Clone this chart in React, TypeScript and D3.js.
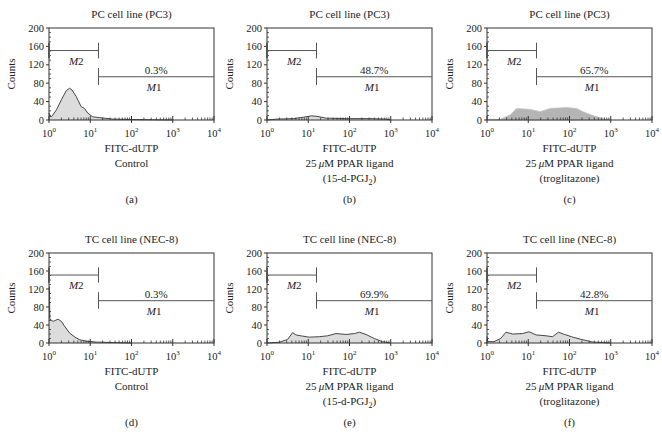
import React from "react";
import * as d3 from "d3";

// ---------- data (log10 FITC-dUTP channel, counts) ----------
const aLog = [0, 0.02, 0.06, 0.18, 0.3, 0.42, 0.5, 0.56, 0.66, 0.78, 0.86, 0.94, 1.06, 1.23, 1.55, 2.03, 2.5, 3.0];
const aCnt = [15, 8, 7, 22, 44, 64, 69, 65, 51, 29, 25, 15, 7, 5, 2, 1, 0.5, 0];

const bLog = [0, 0.24, 0.64, 0.88, 1.08, 1.2, 1.44, 1.92, 2.48, 2.88, 3.0];
const bCnt = [0, 2, 3, 6, 9, 8, 4, 3, 3, 2, 0];

const cLog = [0, 0.32, 0.56, 0.72, 1.05, 1.29, 1.53, 1.93, 2.17, 2.33, 2.58, 2.82, 2.98];
const cCnt = [1.5, 1.5, 11, 25, 23, 18, 25, 27, 25, 18, 9, 3, 0];

const dLog = [0, 0.01, 0.02, 0.1, 0.22, 0.3, 0.38, 0.5, 0.63, 0.75, 0.91, 1.15, 1.56, 2.0];
const dCnt = [125, 125, 53, 48, 53, 48, 37, 22, 13, 7, 4, 2, 1, 0];

const eLog = [0, 0.29, 0.5, 0.62, 0.7, 0.82, 1.02, 1.27, 1.47, 1.67, 1.92, 2.12, 2.24, 2.4, 2.6, 2.8, 2.98];
const eCnt = [0, 1.5, 8, 23, 18, 16, 13, 14, 16, 21, 19, 21, 24, 19, 10, 3, 0];

const fLog = [0, 0.02, 0.17, 0.33, 0.46, 0.62, 0.86, 1.02, 1.19, 1.43, 1.59, 1.73, 1.88, 2.08, 2.33, 2.57, 2.8, 3.0];
const fCnt = [15, 3, 3, 10, 24, 20, 21, 25, 18, 16, 14, 24, 19, 13, 7, 2, 1, 0];

const titles = ["PC cell line (PC3)", "PC cell line (PC3)", "PC cell line (PC3)", "TC cell line (NEC-8)", "TC cell line (NEC-8)", "TC cell line (NEC-8)"];
const percents = ["0.3%", "48.7%", "65.7%", "0.3%", "69.9%", "42.8%"];
const panelLetters = ["(a)", "(b)", "(c)", "(d)", "(e)", "(f)"];
const treatments = ["control", "pgj", "trog", "control", "pgj", "trog"];
const yTicks = [0, 40, 80, 120, 160, 200];
const decades = [0, 1, 2, 3, 4];
const m2Level = 151;
const m1Level = 94;
const gateLog = 1.2;

const series = [
  { log: aLog, cnt: aCnt },
  { log: bLog, cnt: bCnt },
  { log: cLog, cnt: cCnt },
  { log: dLog, cnt: dCnt },
  { log: eLog, cnt: eCnt },
  { log: fLog, cnt: fCnt },
];

const FONT = "'Liberation Serif', 'DejaVu Serif', serif";
const AX = "#333";
const MK = "#555";

function Panel({ idx }: { idx: number }) {
  const col = idx % 3;
  const row = Math.floor(idx / 3);
  const x0 = [49, 267, 487][col];
  const w = 165;
  const yBot = row === 0 ? 120 : 343;
  const yTop = row === 0 ? 28 : 253;
  const x = d3.scaleLinear().domain([0, 4]).range([x0, x0 + w]);
  const y = d3.scaleLinear().domain([0, 200]).range([yBot, yTop]);
  const s = series[idx];
  const pts: [number, number][] = s.log.map((l, i) => [l, s.cnt[i]]);
  const area = d3
    .area<[number, number]>()
    .x((p) => x(p[0]))
    .y0(y(0))
    .y1((p) => y(p[1]));
  const line = d3
    .line<[number, number]>()
    .x((p) => x(p[0]))
    .y((p) => y(p[1]));
  const isC = idx === 2;
  const minorX: number[] = [];
  for (let dcd = 0; dcd < 4; dcd++) for (let k = 2; k <= 9; k++) minorX.push(dcd + Math.log10(k));
  const minorY = d3.range(0, 201, 10).filter((v) => v % 40 !== 0);
  const tr = treatments[idx];
  const labY = yBot + 32;
  return (
    <g fontFamily={FONT} fill="#222">
      <text x={x(2)} y={yTop - 10} textAnchor="middle" fontSize={11}>
        {titles[idx]}
      </text>
      <text
        transform={`translate(${x0 - 34},${(yTop + yBot) / 2}) rotate(-90)`}
        textAnchor="middle"
        fontSize={11}
      >
        Counts
      </text>
      {/* histogram */}
      {isC ? (
        <path d={area(pts) || ""} fill="#b4b4b4" stroke="#c0c0c0" strokeWidth={0.8} />
      ) : (
        <g>
          <path d={area(pts) || ""} fill="#dcdcdc" />
          <path d={line(pts) || ""} fill="none" stroke="#333" strokeWidth={0.9} />
        </g>
      )}
      {/* frame */}
      <rect x={x0} y={yTop} width={w} height={yBot - yTop} fill="none" stroke={AX} strokeWidth={1} />
      {/* y ticks */}
      {yTicks.map((t) => (
        <g key={t}>
          <line x1={x0 - 3} x2={x0} y1={y(t)} y2={y(t)} stroke={AX} />
          <text x={x0 - 5} y={y(t) + 3.5} textAnchor="end" fontSize={10.5}>
            {t}
          </text>
        </g>
      ))}
      {minorY.map((t) => (
        <line key={"my" + t} x1={x0} x2={x0 + 2} y1={y(t)} y2={y(t)} stroke={AX} strokeWidth={0.8} />
      ))}
      {/* x ticks */}
      {decades.map((dd) => (
        <g key={dd}>
          <line x1={x(dd)} x2={x(dd)} y1={yBot} y2={yBot + 3} stroke={AX} />
          <line x1={x(dd)} x2={x(dd)} y1={yBot} y2={yBot - 4} stroke={AX} />
          <text x={x(dd)} y={yBot + 17} textAnchor="middle" fontSize={10.5}>
            10
            <tspan dy={-5} fontSize={7}>
              {dd}
            </tspan>
          </text>
        </g>
      ))}
      {minorX.map((m, i) => (
        <line key={"mx" + i} x1={x(m)} x2={x(m)} y1={yBot} y2={yBot - 2.5} stroke={AX} strokeWidth={0.8} />
      ))}
      {/* markers */}
      <g stroke={MK} strokeWidth={1}>
        <line x1={x(0)} x2={x(gateLog)} y1={y(m2Level)} y2={y(m2Level)} />
        <line x1={x(0)} x2={x(0)} y1={y(m2Level - 17)} y2={y(m2Level + 17)} strokeWidth={2} />
        <line x1={x(gateLog)} x2={x(gateLog)} y1={y(m2Level - 17)} y2={y(m2Level + 17)} />
        <line x1={x(gateLog)} x2={x(4)} y1={y(m1Level)} y2={y(m1Level)} />
        <line x1={x(gateLog)} x2={x(gateLog)} y1={y(m1Level - 18)} y2={y(m1Level + 19)} />
      </g>
      <text x={x(0.66)} y={y(128) + 4} textAnchor="middle" fontSize={11}>
        <tspan fontStyle="italic">M</tspan>2
      </text>
      <text x={x(2.55)} y={y(72) + 4} textAnchor="middle" fontSize={11}>
        <tspan fontStyle="italic">M</tspan>1
      </text>
      <text x={x(2.6)} y={y(108) + 4} textAnchor="middle" fontSize={11}>
        {percents[idx]}
      </text>
      {/* x labels */}
      <text x={x(2)} y={labY} textAnchor="middle" fontSize={11}>
        FITC-dUTP
      </text>
      {tr === "control" ? (
        <text x={x(2)} y={labY + 15} textAnchor="middle" fontSize={11}>
          Control
        </text>
      ) : (
        <g>
          <text x={x(2)} y={labY + 15} textAnchor="middle" fontSize={11}>
            25{"\u2009"}
            <tspan fontStyle="italic">μ</tspan>M PPAR ligand
          </text>
          {tr === "pgj" ? (
            <text x={x(2)} y={labY + 30} textAnchor="middle" fontSize={11}>
              (15-d-PGJ
              <tspan dy={3} fontSize={8}>
                2
              </tspan>
              <tspan dy={-3}>)</tspan>
            </text>
          ) : (
            <text x={x(2)} y={labY + 30} textAnchor="middle" fontSize={11}>
              (troglitazone)
            </text>
          )}
        </g>
      )}
      <text x={x(2)} y={yBot + 83} textAnchor="middle" fontSize={11}>
        {panelLetters[idx]}
      </text>
    </g>
  );
}

export default function App() {
  return (
    <svg width={662} height={440} style={{ position: "absolute", left: 0, top: 0, background: "#fff" }}>
      <rect width={662} height={440} fill="#fff" />
      {[0, 1, 2, 3, 4, 5].map((i) => (
        <Panel key={i} idx={i} />
      ))}
    </svg>
  );
}
